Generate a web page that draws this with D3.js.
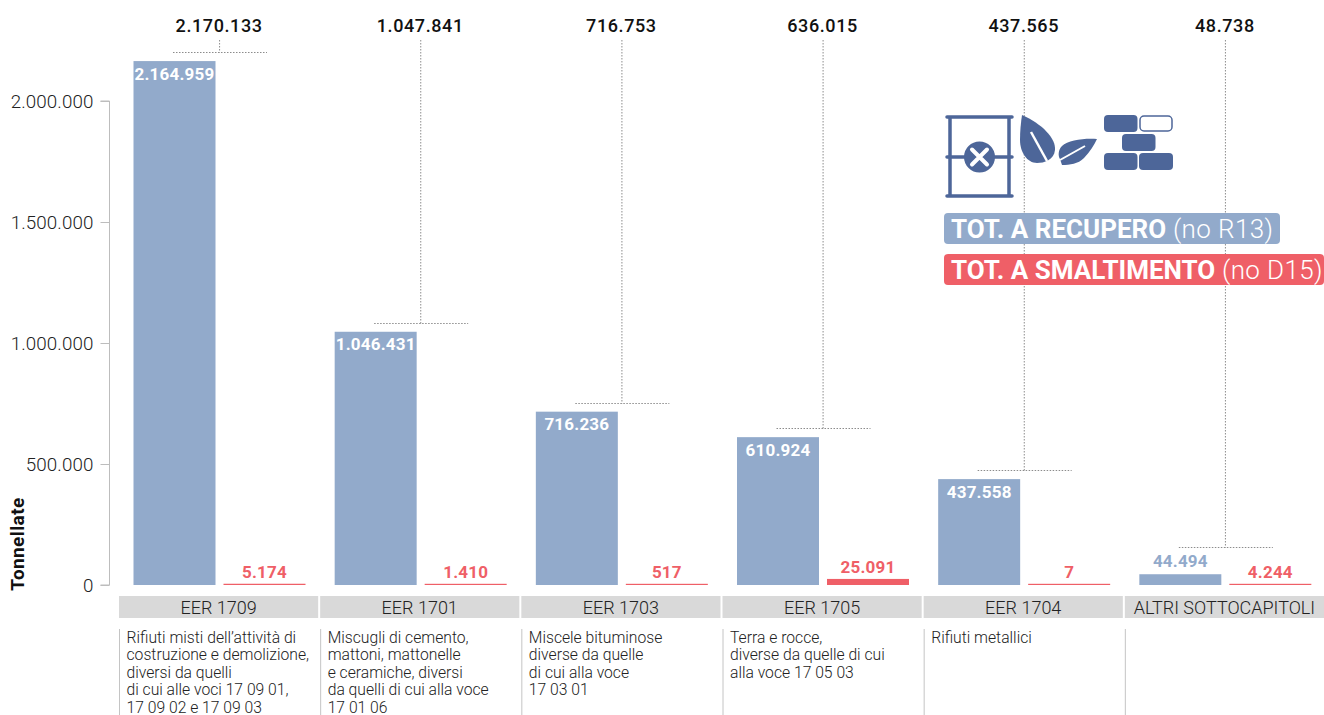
<!DOCTYPE html>
<html><head><meta charset="utf-8">
<script src="https://cdn.jsdelivr.net/npm/d3@7"></script>
<style>
html,body{margin:0;padding:0;background:#fff;overflow:hidden}
text{font-family:Roboto,sans-serif}
</style></head><body><svg id="c" width="1324" height="715"></svg>
<script>
const categories=["EER 1709","EER 1701","EER 1703","EER 1705","EER 1704","ALTRI SOTTOCAPITOLI"];
const recupero=[2164959,1046431,716236,610924,437558,44494];
const smaltimento=[5174,1410,517,25091,7,4244];
const totals=[2170133,1047841,716753,636015,437565,48738];
const descriptions=[
["Rifiuti misti dell’attività di","costruzione e demolizione,","diversi da quelli","di cui alle voci 17 09 01,","17 09 02 e 17 09 03"],
["Miscugli di cemento,","mattoni, mattonelle","e ceramiche, diversi","da quelli di cui alla voce","17 01 06"],
["Miscele bituminose","diverse da quelle","di cui alla voce","17 03 01"],
["Terra e rocce,","diverse da quelle di cui","alla voce 17 05 03"],
["Rifiuti metallici"],
[]];
const yTicks=[0,500000,1000000,1500000,2000000];
const axisTitle="Tonnellate";
const legendRec=["TOT. A RECUPERO"," (no R13)"];
const legendSma=["TOT. A SMALTIMENTO"," (no D15)"];

const BLUE="#92aacb",RED="#ef5f67",DARK="#4d6699";
const fmt=v=>d3.format(",")(v).replace(/,/g,".");
const svg=d3.select("#c");
const y=d3.scaleLinear().domain([0,2000000]).range([585,101]);
const x=d3.scaleBand().domain(categories).range([119,1326]).paddingInner(0).paddingOuter(0);
const cw=x.bandwidth();

// y axis
const ax=svg.append("g").attr("transform","translate(109.5,0)").call(d3.axisLeft(y).tickValues(yTicks).tickSize(9).tickPadding(7).tickFormat(fmt));
ax.selectAll("path").attr("d",`M-9,${y(2000000)}H0V${y(0)}H-9`).attr("stroke","#bdbdbd").attr("fill","none");
ax.selectAll("line").attr("stroke","#bdbdbd");
ax.selectAll("text").attr("font-size",18.8).attr("fill","#222").style("font-family","Roboto").attr("font-weight",300).attr("letter-spacing",0.1);
svg.append("text").attr("transform","translate(24,544) rotate(-90)").attr("text-anchor","middle")
 .attr("font-size",19).attr("font-weight",700).attr("letter-spacing",0.4).attr("fill","#111").text(axisTitle);

const g=svg.selectAll("g.cat").data(categories).join("g").attr("class","cat").attr("transform",d=>`translate(${x(d)},0)`);
const bw=82;
g.each(function(d,i){
  const s=d3.select(this);
  const inside=recupero[i]>100000;
  const yb=Math.round(y(recupero[i])-(inside?9:27))+0.5;
  s.append("path").attr("d",`M${cw/2},40V${yb}`).attr("stroke","#8c8c8c").attr("stroke-dasharray","1.5 1.5").attr("fill","none");
  s.append("path").attr("d",`M54,${yb}h94`).attr("stroke","#8c8c8c").attr("stroke-dasharray","1.5 1.5").attr("fill","none");
  s.append("text").attr("x",cw/2-0.5).attr("y",32).attr("text-anchor","middle").attr("font-size",18).attr("font-weight",500).attr("letter-spacing",0.6).attr("fill","#111").text(fmt(totals[i]));
  s.append("rect").attr("x",14.5).attr("width",bw).attr("y",y(recupero[i])).attr("height",y(0)-y(recupero[i])).attr("fill",BLUE);
  const rh=Math.max(y(0)-y(smaltimento[i]),1.2);
  s.append("rect").attr("x",104.5).attr("width",bw).attr("y",y(0)-rh).attr("height",rh).attr("fill",RED);
  s.append("text").attr("x",55.5).attr("y",inside?y(recupero[i])+18.5:y(recupero[i])-7).attr("text-anchor","middle").attr("font-size",17).attr("font-weight",700).attr("letter-spacing",0.2).attr("fill",inside?"#fff":BLUE).text(fmt(recupero[i]));
  s.append("text").attr("x",145.5).attr("y",y(0)-rh-6).attr("text-anchor","middle").attr("font-size",17).attr("font-weight",700).attr("letter-spacing",0.2).attr("fill",RED).text(fmt(smaltimento[i]));
  s.append("rect").attr("x",0).attr("y",596).attr("width",cw-2).attr("height",22).attr("fill","#d9d9d9");
  s.append("text").attr("x",(cw-2)/2).attr("y",613.5).attr("text-anchor","middle").attr("font-size",18).attr("font-weight",300).attr("fill","#222").text(d);
  s.append("line").attr("x1",0.5).attr("x2",0.5).attr("y1",629).attr("y2",715).attr("stroke","#c4c4c4");
  s.selectAll("text.desc").data(descriptions[i]).join("text").attr("class","desc").attr("x",7.5).attr("y",(t,j)=>642.5+j*17.5)
   .attr("font-size",15.7).attr("font-weight",300).attr("fill","#222").text(t=>t);
});

// legend
const lg=svg.append("g");
lg.append("rect").attr("x",944).attr("y",213).attr("width",336).attr("height",31).attr("rx",4).attr("fill",BLUE);
lg.append("rect").attr("x",944).attr("y",254).attr("width",380).attr("height",31).attr("rx",4).attr("fill",RED);
[[legendRec,238],[legendSma,279]].forEach(([t,yy])=>{
 const e=lg.append("text").attr("x",951).attr("y",yy).attr("font-size",26).attr("fill","#fff");
 e.append("tspan").attr("font-weight",700).text(t[0]);
 e.append("tspan").attr("font-weight",300).attr("letter-spacing",0.4).text(t[1]);
});
// icons
const ic=svg.append("g");
ic.append("path").attr("d","M947,117H1012M947,157H1012M947,196H1012M950,117V196M1009,117V196").attr("stroke",DARK).attr("stroke-width",3.5).attr("stroke-linecap","round").attr("fill","none");
ic.append("circle").attr("cx",979.5).attr("cy",157).attr("r",15.5).attr("fill",DARK);
ic.append("path").attr("d","M972,149.5L987,164.5M987,149.5L972,164.5").attr("stroke","#fff").attr("stroke-width",4).attr("stroke-linecap","round");
ic.append("path").attr("d","M1022,115C1042,124 1056,138 1055,150C1054,160 1044,163 1037,163C1027,163 1020,152 1020,140C1020,130 1021,122 1022,115Z").attr("fill",DARK);
ic.append("path").attr("d","M1031,132L1047,161").attr("stroke","#fff").attr("stroke-width",2.5);
ic.append("path").attr("d","M1097,139C1085,138 1068,140 1062,146C1058,150 1058,156 1060,159L1062,165C1070,165 1078,164 1084,158C1090,152 1094,145 1097,139Z").attr("fill",DARK);
ic.append("path").attr("d","M1060,160L1085,146").attr("stroke","#fff").attr("stroke-width",2);
[[1104,115],[1122,134],[1104,153],[1139,153]].forEach(b=>ic.append("rect").attr("x",b[0]).attr("y",b[1]).attr("width",b[0]===1139?34:33.5).attr("height",17).attr("rx",4).attr("fill",DARK));
ic.append("rect").attr("x",1140).attr("y",116).attr("width",32).attr("height",15).attr("rx",4).attr("fill","#fff").attr("stroke",DARK).attr("stroke-width",1.5);
</script></body></html>
